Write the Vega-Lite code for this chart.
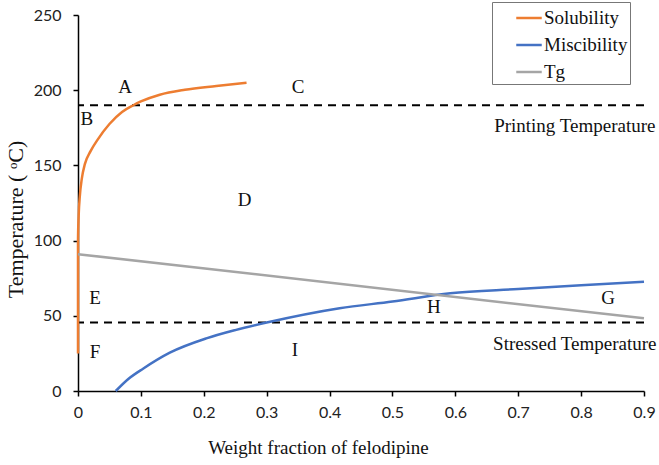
{
  "$schema": "https://vega.github.io/schema/vega-lite/v6.json",
  "width": 566,
  "height": 376,
  "autosize": "none",
  "padding": {"left": 78, "top": 15, "right": 15, "bottom": 74},
  "background": "white",
  "config": {"view": {"stroke": null}},
  "datasets": {
    "curves": [
      {"series": "Solubility", "i": 1, "x": 0, "y": 25},
      {"series": "Solubility", "i": 2, "x": 0, "y": 100},
      {"series": "Solubility", "i": 3, "x": 0.001, "y": 116},
      {"series": "Solubility", "i": 4, "x": 0.003, "y": 130},
      {"series": "Solubility", "i": 5, "x": 0.006, "y": 141},
      {"series": "Solubility", "i": 6, "x": 0.011, "y": 151},
      {"series": "Solubility", "i": 7, "x": 0.02, "y": 159.5},
      {"series": "Solubility", "i": 8, "x": 0.031, "y": 167},
      {"series": "Solubility", "i": 9, "x": 0.05, "y": 177.5},
      {"series": "Solubility", "i": 10, "x": 0.07, "y": 185.5},
      {"series": "Solubility", "i": 11, "x": 0.088, "y": 190},
      {"series": "Solubility", "i": 12, "x": 0.1, "y": 192.5},
      {"series": "Solubility", "i": 13, "x": 0.13, "y": 197},
      {"series": "Solubility", "i": 14, "x": 0.17, "y": 200.3},
      {"series": "Solubility", "i": 15, "x": 0.22, "y": 202.8},
      {"series": "Solubility", "i": 16, "x": 0.268, "y": 205},
      {"series": "Miscibility", "i": 1, "x": 0.06, "y": 0},
      {"series": "Miscibility", "i": 2, "x": 0.08, "y": 8},
      {"series": "Miscibility", "i": 3, "x": 0.104, "y": 15},
      {"series": "Miscibility", "i": 4, "x": 0.146, "y": 25.5},
      {"series": "Miscibility", "i": 5, "x": 0.204, "y": 35},
      {"series": "Miscibility", "i": 6, "x": 0.25, "y": 40.5},
      {"series": "Miscibility", "i": 7, "x": 0.3, "y": 45.5},
      {"series": "Miscibility", "i": 8, "x": 0.416, "y": 55},
      {"series": "Miscibility", "i": 9, "x": 0.5, "y": 59.5},
      {"series": "Miscibility", "i": 10, "x": 0.592, "y": 65},
      {"series": "Miscibility", "i": 11, "x": 0.7, "y": 67.8},
      {"series": "Miscibility", "i": 12, "x": 0.8, "y": 70.3},
      {"series": "Miscibility", "i": 13, "x": 0.9, "y": 72.7},
      {"series": "Tg", "i": 1, "x": 0, "y": 91},
      {"series": "Tg", "i": 2, "x": 0.9, "y": 48.3}
    ],
    "rules": [{"t": 190}, {"t": 45.5}],
    "labels": [
      {"x": 0.075, "y": 202, "text": "A"},
      {"x": 0.014, "y": 181, "text": "B"},
      {"x": 0.35, "y": 202, "text": "C"},
      {"x": 0.265, "y": 127, "text": "D"},
      {"x": 0.027, "y": 62, "text": "E"},
      {"x": 0.027, "y": 26, "text": "F"},
      {"x": 0.843, "y": 62, "text": "G"},
      {"x": 0.566, "y": 56, "text": "H"},
      {"x": 0.345, "y": 27, "text": "I"},
      {"x": 0.79, "y": 176.5, "text": "Printing Temperature"},
      {"x": 0.79, "y": 31.5, "text": "Stressed Temperature"}
    ]
  },
  "layer": [
    {
      "data": {"name": "rules"},
      "mark": {"type": "rule", "stroke": "black", "strokeWidth": 2, "strokeDash": [8, 6]},
      "encoding": {"y": {"field": "t", "type": "quantitative", "scale": {"domain": [0, 250]}}}
    },
    {
      "data": {"name": "curves"},
      "mark": {"type": "line", "strokeWidth": 2.5, "interpolate": "monotone"},
      "encoding": {
        "x": {
          "field": "x", "type": "quantitative",
          "scale": {"domain": [0, 0.9], "nice": false},
          "axis": {
            "values": [0, 0.1, 0.2, 0.3, 0.4, 0.5, 0.6, 0.7, 0.8, 0.9],
            "format": "~g",
            "grid": false,
            "domainColor": "black", "domainWidth": 1.5,
            "tickColor": "black", "tickSize": 5, "tickWidth": 1.5,
            "labelFont": "Lato", "labelFontSize": 16, "labelColor": "#222",
            "labelPadding": 8, "labelFlush": false,
            "title": "Weight fraction of felodipine",
            "titleFont": "Liberation Serif", "titleFontSize": 19, "titleFontWeight": "normal", "titleColor": "#111",
            "titleX": 240, "titleY": 56, "titleBaseline": "middle"
          }
        },
        "y": {
          "field": "y", "type": "quantitative",
          "scale": {"domain": [0, 250], "nice": false},
          "axis": {
            "values": [0, 50, 100, 150, 200, 250],
            "grid": false,
            "domainColor": "black", "domainWidth": 1.5,
            "tickColor": "black", "tickSize": 5, "tickWidth": 1.5,
            "labelFont": "Lato", "labelFontSize": 16, "labelColor": "#222",
            "labelPadding": 12,
            "title": "Temperature ( ᵒC)",
            "titleFont": "Liberation Serif", "titleFontSize": 22, "titleFontWeight": "normal", "titleColor": "#111",
            "titleX": -63, "titleY": 204, "titleBaseline": "middle", "titleAlign": "center", "titleAngle": -90
          }
        },
        "color": {
          "field": "series", "type": "nominal",
          "scale": {"domain": ["Solubility", "Miscibility", "Tg"], "range": ["#ED7D31", "#4472C4", "#A5A5A5"]},
          "legend": {
            "orient": "none", "legendX": 414, "legendY": -13,
            "title": null,
            "strokeColor": "#777", "fillColor": "white",
            "padding": 2,
            "symbolOffset": 21,
            "symbolType": "stroke", "symbolStrokeWidth": 2.5, "symbolSize": 650,
            "labelFont": "Liberation Serif", "labelFontSize": 19, "labelColor": "#111",
            "labelOffset": 1, "rowPadding": 3,
            "labelExpr": "datum.label + '\u00a0\u00a0\u00a0\u00a0\u00a0\u00a0'"
          }
        },
        "order": {"field": "i", "type": "quantitative"}
      }
    },
    {
      "data": {"name": "labels"},
      "mark": {"type": "text", "font": "Liberation Serif", "fontSize": 19, "color": "#111"},
      "encoding": {
        "x": {"field": "x", "type": "quantitative"},
        "y": {"field": "y", "type": "quantitative"},
        "text": {"field": "text"}
      }
    }
  ]
}
